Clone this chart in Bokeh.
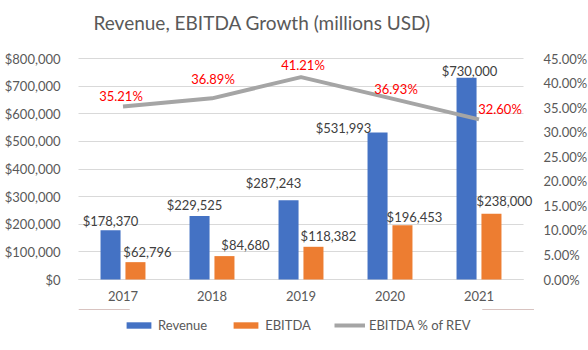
from bokeh.plotting import figure
from bokeh.layouts import column
from bokeh.models import (Range1d, LinearAxis, NumeralTickFormatter, ColumnDataSource,
                          Legend, LegendItem, FixedTicker, Title)
from bokeh.transform import dodge
from bokeh.embed import file_html
from bokeh.resources import INLINE
from bokeh.core.properties import value

# ---------------- data ----------------
years = ["2017", "2018", "2019", "2020", "2021"]
revenue = [178370, 229525, 287243, 531993, 730000]
ebitda = [62796, 84680, 118382, 196453, 238000]
margin = [0.3521, 0.3689, 0.4121, 0.3693, 0.3260]
left_ticks = [0, 100000, 200000, 300000, 400000, 500000, 600000, 700000, 800000]
right_ticks = [0.0, 0.05, 0.10, 0.15, 0.20, 0.25, 0.30, 0.35, 0.40, 0.45]
series_names = ["Revenue", "EBITDA", "EBITDA % of REV"]

# ---------------- label placement (style) ----------------
rev_dx = [0, -5, -15, -34, 3]
rev_dy = [-9, -11, -17, -5, -7]
ebi_dx = [12, 21, 15, 12, 13]
ebi_dy = [-10, -11, -11, -8, -13]
pct_dx = [-2, 1, 2, 6, 21]
pct_dy = [-11, -19, -12, -9, -10]

FONT = "Lato"
GRAY = "#595959"
LABEL = "#404040"
GRID = "#D9D9D9"
C_REV, C_EBI, C_PCT = "#4472C4", "#ED7D31", "#A5A5A5"

idx = list(range(len(years)))
src = ColumnDataSource(dict(
    x=idx, revenue=revenue, ebitda=ebitda, margin=margin,
    rev_text=[f"${v:,}" for v in revenue],
    ebi_text=[f"${v:,}" for v in ebitda],
    pct_text=[f"{m*100:.2f}%" for m in margin],
    rev_dx=rev_dx, rev_dy=rev_dy, ebi_dx=ebi_dx, ebi_dy=ebi_dy,
    pct_dx=pct_dx, pct_dy=pct_dy,
))

# plot frame = category area (5 x 89px) plus a little room on the right for a label
p = figure(frame_width=457, frame_height=221,
           x_range=Range1d(-0.5, len(years) - 0.5 + 12 / 89),
           y_range=Range1d(0, 800000), output_backend="svg", toolbar_location=None,
           min_border_left=78, min_border_right=53, min_border_top=58, min_border_bottom=30)
p.extra_y_ranges = {"pct": Range1d(0, 0.45)}
p.outline_line_color = None
p.background_fill_color = "white"
p.border_fill_color = "white"
p.xgrid.grid_line_color = None
p.ygrid.grid_line_color = None

# left axis; its long inward ticks act as the horizontal gridlines
ya = p.yaxis[0]
ya.ticker = FixedTicker(ticks=left_ticks)
ya.formatter = NumeralTickFormatter(format="$0,0")
ya.axis_line_color = None
ya.major_tick_line_color = GRID
ya.major_tick_in = 445
ya.major_tick_out = 0
ya.minor_tick_line_color = None
ya.major_label_text_font = FONT
ya.major_label_text_font_size = "13px"
ya.major_label_text_color = GRAY
ya.major_label_standoff = 18

ra = LinearAxis(y_range_name="pct", ticker=FixedTicker(ticks=right_ticks),
                formatter=NumeralTickFormatter(format="0.00%"))
ra.axis_line_color = None
ra.major_tick_line_color = None
ra.minor_tick_line_color = None
ra.major_label_text_font = FONT
ra.major_label_text_font_size = "13px"
ra.major_label_text_color = GRAY
ra.major_label_standoff = 2
p.add_layout(ra, "right")

xa = p.xaxis[0]
xa.ticker = FixedTicker(ticks=idx)
xa.major_label_overrides = {i: y for i, y in zip(idx, years)}
xa.bounds = (-0.5, len(years) - 0.5)
xa.axis_line_color = GRID
xa.major_tick_line_color = None
xa.minor_tick_line_color = None
xa.major_label_text_font = FONT
xa.major_label_text_font_size = "13px"
xa.major_label_text_color = GRAY
xa.major_label_standoff = 5

# bars and line (drawn above the guide level so gridlines stay behind)
bw = 0.225
p.vbar(x=dodge("x", -0.14), top="revenue", width=bw, level="annotation",
       source=src, fill_color=C_REV, line_color=None)
p.vbar(x=dodge("x", 0.14), top="ebitda", width=bw, level="annotation",
       source=src, fill_color=C_EBI, line_color=None)
p.line(x="x", y="margin", source=src, y_range_name="pct", level="annotation",
       line_color=C_PCT, line_width=4)

# data labels
p.text(x=dodge("x", -0.14), y="revenue", text="rev_text", source=src, level="annotation",
       x_offset="rev_dx", y_offset="rev_dy", text_align="center", text_baseline="middle",
       text_font=value(FONT), text_font_size="13px", text_color=LABEL)
p.text(x=dodge("x", 0.14), y="ebitda", text="ebi_text", source=src, level="annotation",
       x_offset="ebi_dx", y_offset="ebi_dy", text_align="center", text_baseline="middle",
       text_font=value(FONT), text_font_size="13px", text_color=LABEL)
p.text(x="x", y="margin", text="pct_text", source=src, y_range_name="pct", level="annotation",
       x_offset="pct_dx", y_offset="pct_dy", text_align="center", text_baseline="middle",
       text_font=value(FONT), text_font_size="13px", text_color="#FF0000")

# title: a blank spacer title next to the frame, then the real title above it
p.add_layout(Title(text=" ", text_font_size="10px", standoff=12), "above")
p.add_layout(Title(text="Revenue, EBITDA Growth (millions USD)", align="left", offset=15,
                   vertical_align="bottom", text_font=FONT, text_font_size="19px",
                   text_font_style="normal", text_color=GRAY, standoff=0), "above")

# legend strip below the chart; its renderers use the same data and styles but sit
# outside the strip's (empty) visible range so only the legend shows
lg = figure(width=588, height=41, output_backend="svg", toolbar_location=None,
            x_range=Range1d(0, 1), y_range=Range1d(-2, -1), min_border=0,
            x_axis_location=None, y_axis_location=None)
lg.outline_line_color = None
lg.xgrid.visible = False
lg.ygrid.visible = False
k_rev = lg.vbar(x="x", top="revenue", width=bw, source=src, fill_color=C_REV, line_color=None)
k_ebi = lg.vbar(x="x", top="ebitda", width=bw, source=src, fill_color=C_EBI, line_color=None)
k_pct = lg.line(x="x", y="margin", source=src, line_color=C_PCT, line_width=4)
legend = Legend(items=[LegendItem(label=n, renderers=[r])
                       for n, r in zip(series_names, [k_rev, k_ebi, k_pct])],
                orientation="horizontal", location=(45, 17),
                glyph_width=31, glyph_height=8, label_standoff=4, spacing=23,
                label_text_font=FONT, label_text_font_size="13px", label_text_color=GRAY,
                border_line_color=None, background_fill_alpha=0, padding=0, margin=0)
lg.add_layout(legend, "center")

layout = column(p, lg, spacing=0)
open("out.html", "w").write(file_html(layout, INLINE))
